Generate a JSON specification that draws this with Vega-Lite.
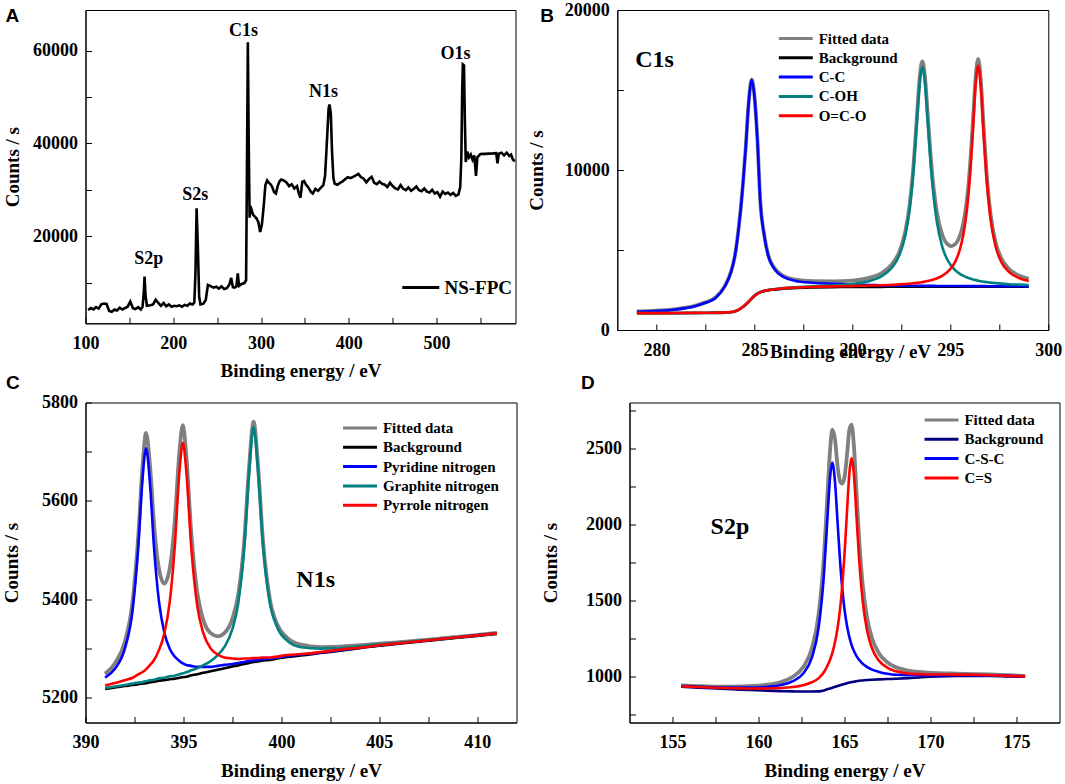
{
  "$schema": "https://vega.github.io/schema/vega-lite/v6.json",
  "background": "white",
  "padding": {"left": 1.5, "top": 0, "right": 0, "bottom": 0},
  "spacing": -7.5,
  "bounds": "full",
  "resolve": {"scale": {"x": "independent", "y": "independent", "color": "independent"}, "legend": {"color": "independent"}, "axis": {"x": "independent", "y": "independent"}},
  "config": {
    "view": {"stroke": "black", "strokeWidth": 1},
    "axis": {"domainColor": "black", "tickColor": "black", "tickSize": -6, "grid": false, "labelFlush": false, "labelOverlap": false, "labelFont": "Liberation Serif", "labelFontWeight": "bold", "labelFontSize": 18, "labelColor": "black", "titleFont": "Liberation Serif", "titleFontWeight": "bold", "titleFontSize": 19, "titleColor": "black", "format": "d"},
    "axisX": {"labelPadding": 17},
    "axisY": {"labelPadding": 14},
    "legend": {"orient": "none", "padding": 0, "labelFont": "Liberation Serif", "labelFontWeight": "bold", "labelFontSize": 15, "labelColor": "black", "symbolType": "M-3,0H3", "symbolSize": 128, "symbolStrokeWidth": 3, "labelOffset": 15.4, "rowPadding": 3.3},
    "title": {"font": "Liberation Sans", "fontSize": 19, "fontWeight": "bold", "color": "black", "anchor": "start", "frame": "group", "offset": 0, "baseline": "alphabetic"}
  },
  "vconcat": [
    {
      "hconcat": [
        {
          "width": 430, "height": 313.3,
          "title": {"text": "A", "dx": -80, "dy": 20},
          "resolve": {"axis": {"x": "independent", "y": "independent"}},
          "layer": [
            {
              "data": {"values": [
                {"x":103,"y":4100},{"x":106,"y":4500},{"x":109,"y":4200},{"x":112,"y":4700},{"x":115,"y":4400},{"x":118,"y":5300},{"x":121,"y":5500},{"x":124,"y":5400},{"x":127,"y":3900},{"x":130,"y":3700},{"x":133,"y":4200},{"x":136,"y":4000},{"x":139,"y":4600},{"x":142,"y":4200},{"x":145,"y":4500},{"x":148,"y":4800},{"x":151,"y":5900},{"x":154,"y":4500},{"x":157,"y":4300},{"x":160,"y":4700},{"x":163,"y":4200},{"x":165,"y":4800},{"x":166.3,"y":7500},{"x":167.3,"y":11300},{"x":168.5,"y":7000},{"x":170,"y":5000},{"x":174,"y":5100},{"x":177,"y":5300},{"x":180,"y":6300},{"x":183,"y":5600},{"x":186,"y":5000},{"x":189,"y":5600},{"x":192,"y":4900},{"x":195,"y":5300},{"x":198,"y":4800},{"x":201,"y":5000},{"x":204,"y":4900},{"x":207,"y":5100},{"x":210,"y":4800},{"x":213,"y":5200},{"x":216,"y":5000},{"x":219,"y":5500},{"x":222,"y":5300},{"x":224,"y":5700},{"x":225.3,"y":12000},{"x":226.6,"y":26000},{"x":228,"y":18000},{"x":229.5,"y":7000},{"x":231,"y":5300},{"x":234,"y":5400},{"x":237,"y":6200},{"x":239.5,"y":9500},{"x":243,"y":9200},{"x":246,"y":8900},{"x":249,"y":9100},{"x":252,"y":8700},{"x":255,"y":9200},{"x":258,"y":8600},{"x":261,"y":8800},{"x":264,"y":9600},{"x":266,"y":11000},{"x":268,"y":9000},{"x":270,"y":8900},{"x":272,"y":9200},{"x":273.5,"y":12000},{"x":275,"y":9300},{"x":278,"y":9700},{"x":281,"y":9900},{"x":283,"y":10500},{"x":284,"y":35000},{"x":285,"y":61800},{"x":286,"y":40000},{"x":287,"y":24000},{"x":288,"y":26500},{"x":289.5,"y":25500},{"x":291,"y":24600},{"x":293,"y":24200},{"x":295,"y":23800},{"x":297,"y":23000},{"x":299,"y":20900},{"x":301,"y":22500},{"x":303,"y":26300},{"x":305,"y":31000},{"x":307,"y":32000},{"x":309,"y":31500},{"x":311,"y":31200},{"x":313,"y":30500},{"x":315,"y":29500},{"x":317,"y":29200},{"x":319,"y":30800},{"x":321,"y":31800},{"x":323,"y":32200},{"x":326,"y":32000},{"x":329,"y":31600},{"x":332,"y":30800},{"x":335,"y":31200},{"x":338,"y":30300},{"x":341,"y":30800},{"x":343,"y":29300},{"x":345,"y":28300},{"x":347,"y":31700},{"x":349,"y":31900},{"x":351,"y":31200},{"x":354,"y":30500},{"x":357,"y":29500},{"x":359,"y":29200},{"x":362,"y":30200},{"x":365,"y":29800},{"x":368,"y":30400},{"x":371,"y":31000},{"x":373,"y":33000},{"x":375,"y":40000},{"x":377,"y":47500},{"x":378,"y":48400},{"x":379.5,"y":46500},{"x":381,"y":38000},{"x":382.5,"y":32500},{"x":384,"y":31300},{"x":387,"y":31100},{"x":390,"y":31500},{"x":393,"y":31800},{"x":396,"y":32300},{"x":399,"y":32700},{"x":402,"y":32500},{"x":405,"y":32800},{"x":408,"y":33100},{"x":411,"y":33400},{"x":414,"y":32700},{"x":417,"y":32400},{"x":420,"y":31600},{"x":423,"y":32300},{"x":426,"y":32800},{"x":429,"y":31500},{"x":432,"y":31200},{"x":435,"y":31800},{"x":438,"y":31300},{"x":441,"y":31100},{"x":444,"y":30600},{"x":447,"y":31500},{"x":450,"y":30800},{"x":453,"y":30300},{"x":456,"y":30100},{"x":459,"y":31000},{"x":462,"y":30200},{"x":465,"y":29900},{"x":468,"y":30500},{"x":471,"y":29800},{"x":474,"y":30200},{"x":477,"y":30700},{"x":480,"y":29900},{"x":483,"y":29700},{"x":486,"y":30300},{"x":489,"y":29600},{"x":492,"y":29400},{"x":495,"y":30000},{"x":498,"y":29200},{"x":501,"y":29500},{"x":504,"y":28500},{"x":507,"y":29600},{"x":510,"y":29100},{"x":513,"y":29400},{"x":516,"y":28900},{"x":519,"y":29300},{"x":522,"y":28700},{"x":525,"y":29000},{"x":527,"y":30600},{"x":528.3,"y":37000},{"x":529.3,"y":52000},{"x":530,"y":57000},{"x":531.3,"y":56800},{"x":532.3,"y":45000},{"x":533.3,"y":36000},{"x":535,"y":38200},{"x":537,"y":37000},{"x":539,"y":37600},{"x":541,"y":36500},{"x":543,"y":37400},{"x":545,"y":33000},{"x":546.5,"y":37000},{"x":550,"y":37700},{"x":555,"y":37750},{"x":560,"y":37800},{"x":565,"y":37850},{"x":568,"y":37900},{"x":569.5,"y":35700},{"x":571,"y":37800},{"x":574,"y":38000},{"x":577,"y":37400},{"x":580,"y":38000},{"x":583,"y":37300},{"x":585,"y":37600},{"x":587,"y":36500},{"x":589.5,"y":36200}
              ]},
              "mark": {"type": "line", "strokeWidth": 2.6, "clip": true},
              "encoding": {
                "x": {"field": "x", "type": "quantitative", "title": "Binding energy / eV", "scale": {"domain": [100, 590], "nice": false, "zero": false}, "axis": {"values": [100,200,300,400,500], "titleY": 47, "titleBaseline": "middle"}},
                "y": {"field": "y", "type": "quantitative", "title": "Counts / s", "scale": {"domain": [1226, 68752], "nice": false, "zero": false}, "axis": {"values": [20000,40000,60000], "titleX": -72.7, "titleBaseline": "middle"}},
                "color": {"datum": "NS-FPC", "type": "nominal", "scale": {"domain": ["NS-FPC"], "range": ["black"]}, "legend": {"title": null, "legendX": 325.8, "legendY": 268, "labelFontSize": 19, "symbolSize": 152, "labelOffset": 14.2}}
              }
            },
            {
              "data": {"values": [
                {"x": 172.1, "y": 13979, "label": "S2p"},
                {"x": 225, "y": 27742, "label": "S2s"},
                {"x": 280, "y": 63225, "label": "C1s"},
                {"x": 371.2, "y": 49957, "label": "N1s"},
                {"x": 521.5, "y": 58215, "label": "O1s"}
              ]},
              "mark": {"type": "text", "font": "Liberation Serif", "fontWeight": "bold", "fontSize": 18, "baseline": "alphabetic", "align": "center", "color": "black"},
              "encoding": {
                "x": {"field": "x", "type": "quantitative", "axis": {"values": [150,250,350,450,550], "labels": false, "domain": false, "title": null, "orient": "bottom"}},
                "y": {"field": "y", "type": "quantitative", "axis": {"values": [10000,30000,50000], "labels": false, "domain": false, "title": null, "orient": "left"}},
                "text": {"field": "label"}
              }
            }
          ]
        },
        {
          "width": 431, "height": 320,
          "title": {"text": "B", "dx": -77, "dy": 29},
          "resolve": {"axis": {"x": "independent", "y": "independent"}},
          "layer": [
            {
              "data": {"values": [
                {"x":279,"Fitted data":1163,"Background":1045,"C-C":1145,"C-OH":1055,"O=C-O":1053},
                {"x":280,"Fitted data":1216,"Background":1048,"C-C":1195,"C-OH":1060,"O=C-O":1057},
                {"x":281,"Fitted data":1308,"Background":1052,"C-C":1285,"C-OH":1065,"O=C-O":1062},
                {"x":282,"Fitted data":1526,"Background":1058,"C-C":1500,"C-OH":1072,"O=C-O":1070},
                {"x":282.5,"Fitted data":1727,"Background":1062,"C-C":1700,"C-OH":1076,"O=C-O":1075},
                {"x":283,"Fitted data":2019,"Background":1068,"C-C":1990,"C-OH":1083,"O=C-O":1082},
                {"x":283.5,"Fitted data":2780,"Background":1085,"C-C":2750,"C-OH":1100,"O=C-O":1100},
                {"x":283.8,"Fitted data":3631,"Background":1110,"C-C":3600,"C-OH":1126,"O=C-O":1125},
                {"x":284.0,"Fitted data":4633,"Background":1160,"C-C":4600,"C-OH":1177,"O=C-O":1176},
                {"x":284.2,"Fitted data":6434,"Background":1260,"C-C":6400,"C-OH":1278,"O=C-O":1276},
                {"x":284.4,"Fitted data":8936,"Background":1420,"C-C":8900,"C-OH":1440,"O=C-O":1436},
                {"x":284.55,"Fitted data":11338,"Background":1580,"C-C":11300,"C-OH":1602,"O=C-O":1596},
                {"x":284.7,"Fitted data":14140,"Background":1760,"C-C":14100,"C-OH":1783,"O=C-O":1777},
                {"x":284.86,"Fitted data":15666,"Background":1960,"C-C":15625,"C-OH":1984,"O=C-O":1977},
                {"x":285.0,"Fitted data":14642,"Background":2130,"C-C":14600,"C-OH":2155,"O=C-O":2147},
                {"x":285.15,"Fitted data":11944,"Background":2260,"C-C":11900,"C-OH":2286,"O=C-O":2278},
                {"x":285.3,"Fitted data":8045,"Background":2350,"C-C":8000,"C-OH":2377,"O=C-O":2368},
                {"x":285.5,"Fitted data":5946,"Background":2430,"C-C":5900,"C-OH":2458,"O=C-O":2448},
                {"x":285.7,"Fitted data":4698,"Background":2475,"C-C":4650,"C-OH":2504,"O=C-O":2494},
                {"x":286.0,"Fitted data":3904,"Background":2520,"C-C":3850,"C-OH":2552,"O=C-O":2542},
                {"x":286.5,"Fitted data":3363,"Background":2580,"C-C":3300,"C-OH":2618,"O=C-O":2605},
                {"x":287,"Fitted data":3172,"Background":2620,"C-C":3100,"C-OH":2665,"O=C-O":2647},
                {"x":288,"Fitted data":3054,"Background":2660,"C-C":2950,"C-OH":2730,"O=C-O":2694},
                {"x":289,"Fitted data":3044,"Background":2680,"C-C":2890,"C-OH":2790,"O=C-O":2724},
                {"x":290,"Fitted data":3089,"Background":2690,"C-C":2840,"C-OH":2880,"O=C-O":2749},
                {"x":291,"Fitted data":3302,"Background":2695,"C-C":2805,"C-OH":3110,"O=C-O":2777},
                {"x":291.5,"Fitted data":3563,"Background":2697,"C-C":2790,"C-OH":3370,"O=C-O":2797},
                {"x":292,"Fitted data":4077,"Background":2700,"C-C":2780,"C-OH":3873,"O=C-O":2824},
                {"x":292.4,"Fitted data":4902,"Background":2700,"C-C":2775,"C-OH":4678,"O=C-O":2849},
                {"x":292.7,"Fitted data":6151,"Background":2700,"C-C":2770,"C-OH":5907,"O=C-O":2874},
                {"x":292.9,"Fitted data":7615,"Background":2700,"C-C":2768,"C-OH":7353,"O=C-O":2894},
                {"x":293.1,"Fitted data":9990,"Background":2700,"C-C":2765,"C-OH":9707,"O=C-O":2918},
                {"x":293.3,"Fitted data":13440,"Background":2700,"C-C":2763,"C-OH":13131,"O=C-O":2946},
                {"x":293.45,"Fitted data":15953,"Background":2700,"C-C":2762,"C-OH":15620,"O=C-O":2971},
                {"x":293.57,"Fitted data":16782,"Background":2700,"C-C":2761,"C-OH":16427,"O=C-O":2994},
                {"x":293.7,"Fitted data":15877,"Background":2700,"C-C":2760,"C-OH":15495,"O=C-O":3022},
                {"x":293.85,"Fitted data":13366,"Background":2700,"C-C":2758,"C-OH":12948,"O=C-O":3060},
                {"x":294.05,"Fitted data":10045,"Background":2700,"C-C":2756,"C-OH":9568,"O=C-O":3121},
                {"x":294.3,"Fitted data":7429,"Background":2700,"C-C":2754,"C-OH":6853,"O=C-O":3222},
                {"x":294.6,"Fitted data":5901,"Background":2700,"C-C":2752,"C-OH":5151,"O=C-O":3398},
                {"x":294.85,"Fitted data":5365,"Background":2700,"C-C":2750,"C-OH":4392,"O=C-O":3623},
                {"x":295.05,"Fitted data":5243,"Background":2700,"C-C":2749,"C-OH":4007,"O=C-O":3887},
                {"x":295.25,"Fitted data":5362,"Background":2700,"C-C":2748,"C-OH":3736,"O=C-O":4278},
                {"x":295.45,"Fitted data":5772,"Background":2700,"C-C":2747,"C-OH":3542,"O=C-O":4883},
                {"x":295.65,"Fitted data":6609,"Background":2700,"C-C":2746,"C-OH":3393,"O=C-O":5870},
                {"x":295.85,"Fitted data":8190,"Background":2700,"C-C":2745,"C-OH":3282,"O=C-O":7563},
                {"x":296.0,"Fitted data":10170,"Background":2705,"C-C":2744,"C-OH":3221,"O=C-O":9615},
                {"x":296.15,"Fitted data":12982,"Background":2705,"C-C":2743,"C-OH":3164,"O=C-O":12485},
                {"x":296.3,"Fitted data":15931,"Background":2705,"C-C":2742,"C-OH":3117,"O=C-O":15482},
                {"x":296.42,"Fitted data":16940,"Background":2705,"C-C":2742,"C-OH":3083,"O=C-O":16525},
                {"x":296.55,"Fitted data":15700,"Background":2705,"C-C":2741,"C-OH":3052,"O=C-O":15317},
                {"x":296.7,"Fitted data":12626,"Background":2705,"C-C":2740,"C-OH":3021,"O=C-O":12275},
                {"x":296.85,"Fitted data":9775,"Background":2705,"C-C":2739,"C-OH":2993,"O=C-O":9453},
                {"x":297.05,"Fitted data":7246,"Background":2705,"C-C":2738,"C-OH":2961,"O=C-O":6957},
                {"x":297.3,"Fitted data":5525,"Background":2705,"C-C":2737,"C-OH":2929,"O=C-O":5269},
                {"x":297.6,"Fitted data":4481,"Background":2705,"C-C":2735,"C-OH":2897,"O=C-O":4259},
                {"x":298,"Fitted data":3804,"Background":2705,"C-C":2733,"C-OH":2864,"O=C-O":3617},
                {"x":298.5,"Fitted data":3402,"Background":2710,"C-C":2731,"C-OH":2839,"O=C-O":3252},
                {"x":299,"Fitted data":3192,"Background":2710,"C-C":2729,"C-OH":2816,"O=C-O":3067}
              ]},
              "transform": [{"fold": ["Fitted data", "Background", "C-C", "C-OH", "O=C-O"], "as": ["series", "value"]}],
              "mark": {"type": "line", "interpolate": "monotone", "clip": true},
              "encoding": {
                "x": {"field": "x", "type": "quantitative", "title": "Binding energy / eV", "scale": {"domain": [278, 300], "nice": false, "zero": false}, "axis": {"values": [280,285,290,295,300], "titleX": 232.8, "titleY": 21, "titleBaseline": "middle"}},
                "y": {"field": "value", "type": "quantitative", "title": "Counts / s", "scale": {"domain": [0, 20000], "nice": false, "zero": false}, "axis": {"values": [0,10000,20000], "titleX": -81.2, "titleBaseline": "middle"}},
                "color": {"field": "series", "type": "nominal", "scale": {"domain": ["Fitted data", "Background", "C-C", "C-OH", "O=C-O"], "range": ["#808080", "#000000", "#0000ff", "#008080", "#ff0000"]}, "legend": {"title": null, "legendX": 171, "legendY": 21}},
                "strokeWidth": {"condition": {"test": "datum.series === 'Fitted data'", "value": 3.8}, "value": 2.6}
              }
            },
            {
              "data": {"values": [{"x": 279.9, "value": 16419, "label": "C1s"}]},
              "mark": {"type": "text", "font": "Liberation Serif", "fontWeight": "bold", "fontSize": 24, "baseline": "alphabetic", "align": "center", "color": "black"},
              "encoding": {
                "x": {"field": "x", "type": "quantitative", "axis": {"values": [282.5,287.5,292.5,297.5], "labels": false, "domain": false, "title": null, "orient": "bottom"}},
                "y": {"field": "value", "type": "quantitative", "axis": {"values": [5000,15000], "labels": false, "domain": false, "title": null, "orient": "left"}},
                "text": {"field": "label"}
              }
            }
          ]
        }
      ],
      "spacing": 101.8,
      "bounds": "flush",
      "resolve": {"scale": {"x": "independent", "y": "independent", "color": "independent"}, "legend": {"color": "independent"}, "axis": {"x": "independent", "y": "independent"}}
    },
    {
      "hconcat": [
        {
          "width": 431, "height": 320,
          "title": {"text": "C", "dx": -79.5, "dy": 3.5},
          "resolve": {"axis": {"x": "independent", "y": "independent"}},
          "layer": [
            {
              "data": {"values": [
                {"x":391,"Fitted data":5249,"Background":5218,"Pyridine nitrogen":5241,"Graphite nitrogen":5220,"Pyrrole nitrogen":5225},
                {"x":391.5,"Fitted data":5270,"Background":5221,"Pyridine nitrogen":5259,"Graphite nitrogen":5223,"Pyrrole nitrogen":5230},
                {"x":392,"Fitted data":5313,"Background":5224,"Pyridine nitrogen":5299,"Graphite nitrogen":5226,"Pyrrole nitrogen":5236},
                {"x":392.4,"Fitted data":5395,"Background":5226,"Pyridine nitrogen":5377,"Graphite nitrogen":5229,"Pyrrole nitrogen":5241},
                {"x":392.7,"Fitted data":5533,"Background":5228,"Pyridine nitrogen":5510,"Graphite nitrogen":5231,"Pyrrole nitrogen":5248},
                {"x":392.9,"Fitted data":5665,"Background":5229,"Pyridine nitrogen":5639,"Graphite nitrogen":5232,"Pyrrole nitrogen":5252},
                {"x":393.09,"Fitted data":5738,"Background":5230,"Pyridine nitrogen":5707,"Graphite nitrogen":5234,"Pyrrole nitrogen":5258},
                {"x":393.3,"Fitted data":5668,"Background":5232,"Pyridine nitrogen":5630,"Graphite nitrogen":5236,"Pyrrole nitrogen":5267},
                {"x":393.5,"Fitted data":5552,"Background":5233,"Pyridine nitrogen":5504,"Graphite nitrogen":5237,"Pyrrole nitrogen":5277},
                {"x":393.75,"Fitted data":5462,"Background":5235,"Pyridine nitrogen":5396,"Graphite nitrogen":5240,"Pyrrole nitrogen":5297},
                {"x":394.02,"Fitted data":5432,"Background":5236,"Pyridine nitrogen":5333,"Graphite nitrogen":5241,"Pyrrole nitrogen":5330},
                {"x":394.3,"Fitted data":5463,"Background":5238,"Pyridine nitrogen":5300,"Graphite nitrogen":5244,"Pyrrole nitrogen":5395},
                {"x":394.55,"Fitted data":5555,"Background":5239,"Pyridine nitrogen":5284,"Graphite nitrogen":5245,"Pyrrole nitrogen":5504},
                {"x":394.8,"Fitted data":5703,"Background":5241,"Pyridine nitrogen":5275,"Graphite nitrogen":5248,"Pyrrole nitrogen":5662},
                {"x":394.97,"Fitted data":5754,"Background":5242,"Pyridine nitrogen":5270,"Graphite nitrogen":5250,"Pyrrole nitrogen":5718},
                {"x":395.15,"Fitted data":5690,"Background":5243,"Pyridine nitrogen":5267,"Graphite nitrogen":5252,"Pyrrole nitrogen":5658},
                {"x":395.4,"Fitted data":5534,"Background":5246,"Pyridine nitrogen":5265,"Graphite nitrogen":5256,"Pyrrole nitrogen":5505},
                {"x":395.7,"Fitted data":5415,"Background":5248,"Pyridine nitrogen":5263,"Graphite nitrogen":5260,"Pyrrole nitrogen":5388},
                {"x":396.0,"Fitted data":5360,"Background":5251,"Pyridine nitrogen":5263,"Graphite nitrogen":5266,"Pyrrole nitrogen":5333},
                {"x":396.4,"Fitted data":5331,"Background":5254,"Pyridine nitrogen":5263,"Graphite nitrogen":5275,"Pyrrole nitrogen":5300},
                {"x":396.75,"Fitted data":5325,"Background":5257,"Pyridine nitrogen":5265,"Graphite nitrogen":5287,"Pyrrole nitrogen":5288},
                {"x":397.1,"Fitted data":5332,"Background":5260,"Pyridine nitrogen":5267,"Graphite nitrogen":5304,"Pyrrole nitrogen":5282},
                {"x":397.5,"Fitted data":5361,"Background":5264,"Pyridine nitrogen":5269,"Graphite nitrogen":5340,"Pyrrole nitrogen":5280},
                {"x":397.8,"Fitted data":5411,"Background":5266,"Pyridine nitrogen":5271,"Graphite nitrogen":5393,"Pyrrole nitrogen":5279},
                {"x":398.1,"Fitted data":5517,"Background":5269,"Pyridine nitrogen":5273,"Graphite nitrogen":5503,"Pyrrole nitrogen":5280},
                {"x":398.35,"Fitted data":5669,"Background":5271,"Pyridine nitrogen":5275,"Graphite nitrogen":5656,"Pyrrole nitrogen":5280},
                {"x":398.58,"Fitted data":5761,"Background":5273,"Pyridine nitrogen":5276,"Graphite nitrogen":5750,"Pyrrole nitrogen":5281},
                {"x":398.8,"Fitted data":5675,"Background":5274,"Pyridine nitrogen":5277,"Graphite nitrogen":5665,"Pyrrole nitrogen":5281},
                {"x":399.05,"Fitted data":5524,"Background":5276,"Pyridine nitrogen":5279,"Graphite nitrogen":5514,"Pyrrole nitrogen":5282},
                {"x":399.4,"Fitted data":5403,"Background":5277,"Pyridine nitrogen":5280,"Graphite nitrogen":5395,"Pyrrole nitrogen":5282},
                {"x":399.8,"Fitted data":5348,"Background":5280,"Pyridine nitrogen":5282,"Graphite nitrogen":5342,"Pyrrole nitrogen":5284},
                {"x":400.3,"Fitted data":5322,"Background":5283,"Pyridine nitrogen":5285,"Graphite nitrogen":5316,"Pyrrole nitrogen":5287},
                {"x":401,"Fitted data":5308,"Background":5286,"Pyridine nitrogen":5288,"Graphite nitrogen":5303,"Pyrrole nitrogen":5289},
                {"x":402,"Fitted data":5303,"Background":5291,"Pyridine nitrogen":5292,"Graphite nitrogen":5300,"Pyrrole nitrogen":5293},
                {"x":403,"Fitted data":5304,"Background":5296,"Pyridine nitrogen":5297,"Graphite nitrogen":5301,"Pyrrole nitrogen":5298},
                {"x":404,"Fitted data":5307,"Background":5301,"Pyridine nitrogen":5302,"Graphite nitrogen":5305,"Pyrrole nitrogen":5302},
                {"x":405,"Fitted data":5310,"Background":5306,"Pyridine nitrogen":5307,"Graphite nitrogen":5309,"Pyrrole nitrogen":5307},
                {"x":406,"Fitted data":5313,"Background":5310,"Pyridine nitrogen":5311,"Graphite nitrogen":5312,"Pyrrole nitrogen":5311},
                {"x":407,"Fitted data":5317,"Background":5314,"Pyridine nitrogen":5315,"Graphite nitrogen":5316,"Pyrrole nitrogen":5315},
                {"x":408,"Fitted data":5320,"Background":5318,"Pyridine nitrogen":5319,"Graphite nitrogen":5319,"Pyrrole nitrogen":5319},
                {"x":409,"Fitted data":5324,"Background":5322,"Pyridine nitrogen":5323,"Graphite nitrogen":5323,"Pyrrole nitrogen":5323},
                {"x":410,"Fitted data":5328,"Background":5326,"Pyridine nitrogen":5327,"Graphite nitrogen":5327,"Pyrrole nitrogen":5327},
                {"x":411,"Fitted data":5332,"Background":5330,"Pyridine nitrogen":5331,"Graphite nitrogen":5331,"Pyrrole nitrogen":5331}
              ]},
              "transform": [{"fold": ["Fitted data", "Background", "Pyridine nitrogen", "Graphite nitrogen", "Pyrrole nitrogen"], "as": ["series", "value"]}],
              "mark": {"type": "line", "interpolate": "monotone", "clip": true},
              "encoding": {
                "x": {"field": "x", "type": "quantitative", "title": "Binding energy / eV", "scale": {"domain": [390, 412], "nice": false, "zero": false}, "axis": {"values": [390,395,400,405,410], "titleY": 47.5, "titleBaseline": "middle"}},
                "y": {"field": "value", "type": "quantitative", "title": "Counts / s", "scale": {"domain": [5150, 5800], "nice": false, "zero": false}, "axis": {"values": [5200,5400,5600,5800], "titleX": -74, "titleBaseline": "middle"}},
                "color": {"field": "series", "type": "nominal", "scale": {"domain": ["Fitted data", "Background", "Pyridine nitrogen", "Graphite nitrogen", "Pyrrole nitrogen"], "range": ["#808080", "#000000", "#0000ff", "#008080", "#ff0000"]}, "legend": {"title": null, "legendX": 267, "legendY": 18}},
                "strokeWidth": {"condition": {"test": "datum.series === 'Fitted data'", "value": 3.8}, "value": 2.6}
              }
            },
            {
              "data": {"values": [{"x": 401.75, "value": 5426, "label": "N1s"}]},
              "mark": {"type": "text", "font": "Liberation Serif", "fontWeight": "bold", "fontSize": 24, "baseline": "alphabetic", "align": "center", "color": "black"},
              "encoding": {
                "x": {"field": "x", "type": "quantitative", "axis": {"values": [392.5,397.5,402.5,407.5], "labels": false, "domain": false, "title": null, "orient": "bottom"}},
                "y": {"field": "value", "type": "quantitative", "axis": {"values": [5300,5500,5700], "labels": false, "domain": false, "title": null, "orient": "left"}},
                "text": {"field": "label"}
              }
            }
          ]
        },
        {
          "width": 430, "height": 320,
          "title": {"text": "D", "dx": -48.6, "dy": -5.5},
          "resolve": {"axis": {"x": "independent", "y": "independent"}},
          "layer": [
            {
              "data": {"values": [
                {"x":155.5,"Fitted data":943,"Background":935,"C-S-C":940,"C=S":938},
                {"x":156.5,"Fitted data":939,"Background":929,"C-S-C":935,"C=S":933},
                {"x":157.5,"Fitted data":936,"Background":923,"C-S-C":931,"C=S":928},
                {"x":158.5,"Fitted data":936,"Background":918,"C-S-C":929,"C=S":925},
                {"x":159.5,"Fitted data":939,"Background":913,"C-S-C":929,"C=S":923},
                {"x":160.5,"Fitted data":948,"Background":909,"C-S-C":934,"C=S":923},
                {"x":161.3,"Fitted data":966,"Background":906,"C-S-C":946,"C=S":926},
                {"x":162,"Fitted data":1000,"Background":904,"C-S-C":971,"C=S":933},
                {"x":162.6,"Fitted data":1064,"Background":903,"C-S-C":1022,"C=S":945},
                {"x":163.1,"Fitted data":1186,"Background":903,"C-S-C":1125,"C=S":964},
                {"x":163.5,"Fitted data":1414,"Background":904,"C-S-C":1327,"C=S":991},
                {"x":163.8,"Fitted data":1784,"Background":910,"C-S-C":1664,"C=S":1030},
                {"x":164.0,"Fitted data":2177,"Background":918,"C-S-C":2024,"C=S":1071},
                {"x":164.15,"Fitted data":2470,"Background":923,"C-S-C":2294,"C=S":1109},
                {"x":164.29,"Fitted data":2622,"Background":928,"C-S-C":2406,"C=S":1156},
                {"x":164.45,"Fitted data":2555,"Background":934,"C-S-C":2275,"C=S":1228},
                {"x":164.6,"Fitted data":2380,"Background":940,"C-S-C":2008,"C=S":1322},
                {"x":164.75,"Fitted data":2280,"Background":945,"C-S-C":1746,"C=S":1454},
                {"x":164.87,"Fitted data":2268,"Background":949,"C-S-C":1579,"C=S":1598},
                {"x":165.0,"Fitted data":2310,"Background":953,"C-S-C":1443,"C=S":1803},
                {"x":165.15,"Fitted data":2460,"Background":958,"C-S-C":1331,"C=S":2095},
                {"x":165.28,"Fitted data":2620,"Background":962,"C-S-C":1262,"C=S":2332},
                {"x":165.41,"Fitted data":2655,"Background":965,"C-S-C":1210,"C=S":2435},
                {"x":165.55,"Fitted data":2510,"Background":968,"C-S-C":1169,"C=S":2323},
                {"x":165.7,"Fitted data":2205,"Background":971,"C-S-C":1136,"C=S":2048},
                {"x":165.85,"Fitted data":1905,"Background":974,"C-S-C":1112,"C=S":1773},
                {"x":166.05,"Fitted data":1612,"Background":976,"C-S-C":1086,"C=S":1505},
                {"x":166.3,"Fitted data":1396,"Background":979,"C-S-C":1065,"C=S":1310},
                {"x":166.6,"Fitted data":1253,"Background":981,"C-S-C":1047,"C=S":1187},
                {"x":167,"Fitted data":1155,"Background":983,"C-S-C":1032,"C=S":1106},
                {"x":167.5,"Fitted data":1094,"Background":985,"C-S-C":1020,"C=S":1059},
                {"x":168,"Fitted data":1062,"Background":987,"C-S-C":1013,"C=S":1036},
                {"x":168.7,"Fitted data":1040,"Background":991,"C-S-C":1010,"C=S":1022},
                {"x":169.5,"Fitted data":1030,"Background":997,"C-S-C":1010,"C=S":1017},
                {"x":170.5,"Fitted data":1024,"Background":1002,"C-S-C":1011,"C=S":1015},
                {"x":171.5,"Fitted data":1021,"Background":1005,"C-S-C":1012,"C=S":1014},
                {"x":172.5,"Fitted data":1018,"Background":1006,"C-S-C":1011,"C=S":1013},
                {"x":173.5,"Fitted data":1015,"Background":1005,"C-S-C":1009,"C=S":1010},
                {"x":174.5,"Fitted data":1010,"Background":1002,"C-S-C":1006,"C=S":1006},
                {"x":175.5,"Fitted data":1006,"Background":1000,"C-S-C":1003,"C=S":1003}
              ]},
              "transform": [{"fold": ["Fitted data", "Background", "C-S-C", "C=S"], "as": ["series", "value"]}],
              "mark": {"type": "line", "interpolate": "monotone", "clip": true},
              "encoding": {
                "x": {"field": "x", "type": "quantitative", "title": "Binding energy / eV", "scale": {"domain": [152.5, 177.5], "nice": false, "zero": false}, "axis": {"values": [155,160,165,170,175], "titleY": 48, "titleBaseline": "middle"}},
                "y": {"field": "value", "type": "quantitative", "title": "Counts / s", "scale": {"domain": [700, 2800], "nice": false, "zero": false}, "axis": {"values": [1000,1500,2000,2500], "titleX": -78.6, "titleBaseline": "middle"}},
                "color": {"field": "series", "type": "nominal", "scale": {"domain": ["Fitted data", "Background", "C-S-C", "C=S"], "range": ["#808080", "#000080", "#0000ff", "#ff0000"]}, "legend": {"title": null, "legendX": 304.5, "legendY": 10}},
                "strokeWidth": {"condition": {"test": "datum.series === 'Fitted data'", "value": 3.8}, "value": 2.6}
              }
            },
            {
              "data": {"values": [{"x": 158.34, "value": 1937, "label": "S2p"}]},
              "mark": {"type": "text", "font": "Liberation Serif", "fontWeight": "bold", "fontSize": 24, "baseline": "alphabetic", "align": "center", "color": "black"},
              "encoding": {
                "x": {"field": "x", "type": "quantitative", "axis": {"values": [157.5,162.5,167.5,172.5], "labels": false, "domain": false, "title": null, "orient": "bottom"}},
                "y": {"field": "value", "type": "quantitative", "axis": {"values": [750,1250,1750,2250,2750], "labels": false, "domain": false, "title": null, "orient": "left"}},
                "text": {"field": "label"}
              }
            }
          ]
        }
      ],
      "spacing": 113,
      "bounds": "flush",
      "resolve": {"scale": {"x": "independent", "y": "independent", "color": "independent"}, "legend": {"color": "independent"}, "axis": {"x": "independent", "y": "independent"}}
    }
  ]
}
